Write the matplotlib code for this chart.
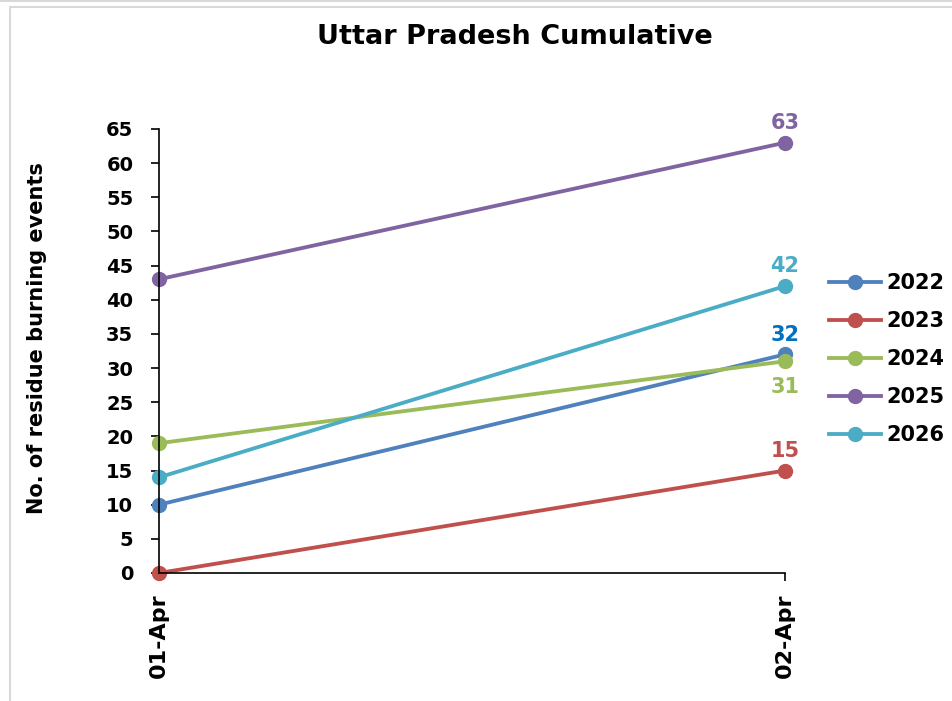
import matplotlib
matplotlib.use("Agg")
import matplotlib.pyplot as plt
from matplotlib.patches import Rectangle

plt.rcParams['font.family'] = ['DejaVu Sans']
plt.rcParams['font.weight'] = 'bold'

dates = ['01-Apr', '02-Apr']
years = ['2022', '2023', '2024', '2025', '2026']
v2022 = [10, 32]
v2023 = [0, 15]
v2024 = [19, 31]
v2025 = [43, 63]
v2026 = [14, 42]
series = [v2022, v2023, v2024, v2025, v2026]
colors = ['#4F81BD', '#C0504D', '#9BBB59', '#8064A2', '#4BACC6']
label_colors = ['#0070C0', '#C0504D', '#9BBB59', '#8064A2', '#4BACC6']
# end label above (+) or below (-) the point
label_pos = [1, 1, -1, 1, 1]

fig = plt.figure(figsize=(9.53, 7.01), dpi=100)
ax = fig.add_axes([159/953, 1-573/701, (785-159)/953, (573-129)/701])

x = list(range(len(dates)))
for yr, vals, c, lc, pos in zip(years, series, colors, label_colors, label_pos):
    ax.plot(x, vals, '-o', color=c, lw=2.75, ms=10, label=yr, clip_on=False)
    if pos > 0:
        ax.annotate(str(vals[-1]), (x[-1], vals[-1]), xytext=(0, 7),
                    textcoords='offset points', ha='center', va='bottom',
                    color=lc, fontsize=15, fontweight='bold')
    else:
        ax.annotate(str(vals[-1]), (x[-1], vals[-1]), xytext=(0, -11),
                    textcoords='offset points', ha='center', va='top',
                    color=lc, fontsize=15, fontweight='bold')

ax.set_xlim(0, 1)
ax.set_ylim(0, 65)
ax.set_yticks(range(0, 66, 5))
ax.set_xticks(x)
ax.set_xticklabels(dates, rotation=90)
ax.tick_params(axis='both', width=1.2, length=5.5, direction='out')
ax.tick_params(axis='y', pad=13, labelsize=14)
ax.tick_params(axis='x', pad=9, labelsize=16)
for s in ['top', 'right']:
    ax.spines[s].set_visible(False)
for s in ['left', 'bottom']:
    ax.spines[s].set_linewidth(1.2)

fig.text(37/953, 1-338/701, 'No. of residue burning events', rotation=90,
         ha='center', va='center', fontsize=15, fontweight='bold')
fig.text(515/953, 1-37/701, 'Uttar Pradesh Cumulative', ha='center', va='center',
         fontsize=19.5, fontweight='bold')

ax.legend(loc='center left', bbox_to_anchor=(1.07, 0.482), frameon=False,
          borderaxespad=0, borderpad=0, fontsize=15, handlelength=2.5,
          labelspacing=0.86, handletextpad=0.25)

fig.patches.append(Rectangle((10/953, -0.01), 1.0, 1-7/701+0.01, transform=fig.transFigure,
                             fill=False, edgecolor='#D9D9D9', lw=1.5))
fig.patches.append(Rectangle((0, 1-2/701), 1.0, 0.01, transform=fig.transFigure,
                             facecolor='#D9D9D9', edgecolor='none'))

fig.savefig('out.png', dpi=100)
